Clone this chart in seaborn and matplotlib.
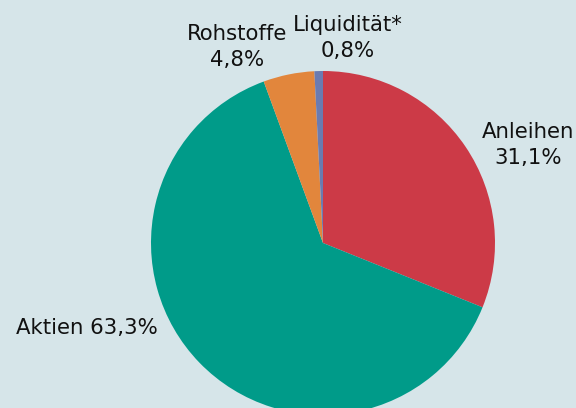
import matplotlib
matplotlib.use("Agg")
import seaborn as sns
import matplotlib.pyplot as plt

# Daten
kategorien = ["Anleihen", "Aktien", "Rohstoffe", "Liquidität*"]
anteile = [31.1, 63.3, 4.8, 0.8]
beschriftungen = ["Anleihen\n31,1%", "Aktien 63,3%", "Rohstoffe\n4,8%", "Liquidität*\n0,8%"]
farben = ["#cc3a47", "#009b89", "#e2863c", "#6b7bb1"]

sns.set_style("white")
plt.rcParams["font.family"] = ["DejaVu Sans"]

bg = "#d6e5e9"
fig = plt.figure(figsize=(5.76, 4.08), dpi=100)
fig.patch.set_facecolor(bg)
ax = fig.add_axes([0, 0, 1, 1])
ax.set_facecolor(bg)

ax.pie(anteile, colors=sns.color_palette(farben), startangle=90, counterclock=False,
       center=(323, 165), radius=172, frame=True,
       wedgeprops=dict(linewidth=0))

# Beschriftungen
pos = [(528, 263), (87, 80), (237, 361), (348, 370)]
for txt, (x, y) in zip(beschriftungen, pos):
    ax.text(x, y, txt, ha="center", va="center", fontsize=15.3, color="#111111",
            linespacing=1.4)

ax.set_xlim(0, 576)
ax.set_ylim(0, 408)
ax.set_aspect("equal")
ax.axis("off")

fig.savefig("out.png", dpi=100, facecolor=bg)
